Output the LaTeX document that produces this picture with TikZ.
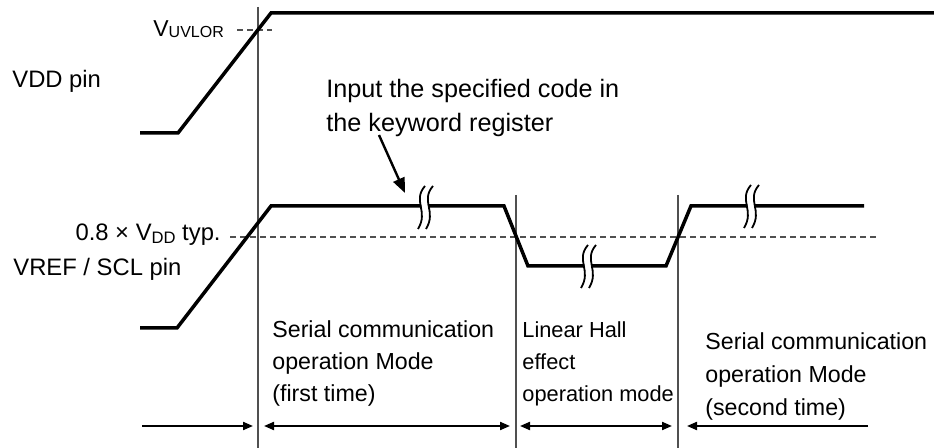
\documentclass[tikz,border=0pt]{standalone}
\usepackage{fontspec}
\setmainfont{Liberation Sans}
\definecolor{hallgray}{RGB}{80,80,80}
\usetikzlibrary{arrows.meta}

\begin{document}
\begin{tikzpicture}[x=0.5pt,y=-0.5pt,
  hallwave/.style={line width=1.75pt,line join=miter},
  hallmark/.style={line width=0.7pt,hallgray},
  halldash/.style={line width=0.6pt,hallgray,dash pattern=on 3pt off 2pt},
  hallarr/.style={line width=1pt,-{Triangle[length=5pt,width=4pt]}},
  hallboth/.style={line width=1pt,{Triangle[length=5pt,width=4pt]}-{Triangle[length=5pt,width=4pt]}},
  hallnote/.style={inner sep=0pt,align=left,anchor=north west,font=\fontsize{11.6}{16}\selectfont},
  halllabel/.style={inner sep=0pt,font=\fontsize{11.9}{16}\selectfont},
  hallbreak/.style={line width=0.9pt}
]
  \useasboundingbox (0,0) rectangle (934,448);

  % Mode boundaries
  \coordinate (b1top) at (258,7);
  \coordinate (b1bot) at (258,448);
  \coordinate (b2top) at (516,195);
  \coordinate (b2bot) at (516,448);
  \coordinate (b3top) at (678,195);
  \coordinate (b3bot) at (678,448);
  \draw[hallmark] (b1top) -- (b1bot);
  \draw[hallmark] (b2top) -- (b2bot);
  \draw[hallmark] (b3top) -- (b3bot);

  % Threshold lines
  \draw[halldash] (237,30) -- (272,30);
  \draw[halldash] (230,237) -- (878,237);

  % VDD pin waveform
  \draw[hallwave] (140,133) -- (178,133) -- (271,13) -- (934,13);

  % VREF / SCL pin waveform
  \draw[hallwave] (140,328) -- (177,328) -- (271,206) -- (504,206) -- (528,266)
    -- (666,266) -- (691,206) -- (864,206);

  % Breaks in the waveform
  \foreach \bx/\by in {425/207,588/266,751/206}{
    \draw[white,line width=3.2pt] (\bx+4,\by-21) .. controls (\bx-9,\by-6) and (\bx+8,\by+4) .. (\bx-3,\by+22);
    \draw[hallbreak] (\bx,\by-21) .. controls (\bx-13,\by-6) and (\bx+4,\by+4) .. (\bx-7,\by+22);
    \draw[hallbreak] (\bx+8,\by-21) .. controls (\bx-5,\by-6) and (\bx+12,\by+4) .. (\bx+1,\by+22);
  }

  % Labels
  \node[halllabel,anchor=base west] (vddpin) at (12,88) {VDD pin};
  \node[halllabel,anchor=base west,font=\fontsize{11.5}{16}\selectfont] (uvlor) at (153,37) {V\raisebox{-0.5pt}{\fontsize{8}{8}\selectfont UVLOR}};
  \node[halllabel,anchor=base east] (thresh) at (221,241) {0.8 × V\raisebox{-1.5pt}{\fontsize{8.3}{8}\selectfont DD} typ.};
  \node[halllabel,anchor=base west] (vrefpin) at (13,276) {VREF / SCL pin};

  % Keyword note
  \node[hallnote,font=\fontsize{12.6}{17}\selectfont] (kwnote) at (326,79) {Input the specified code in\\the keyword register};
  \coordinate (kwtail) at (379,135);
  \coordinate (kwtip) at (405,193);
  \draw[line width=1.2pt,-{Triangle[length=7.5pt,width=6pt]}] (kwtail) -- (kwtip);

  % Mode texts
  \node[hallnote] (serial1) at (272,320) {Serial communication\\operation Mode\\(first time)};
  \node[hallnote,font=\fontsize{10.9}{16}\selectfont] (linear) at (522,321) {Linear Hall\\effect\\operation mode};
  \node[hallnote,font=\fontsize{11.6}{16.5}\selectfont] (serial2) at (705,332) {Serial communication\\operation Mode\\(second time)};

  % Mode spans
  \coordinate (s0) at (142,426);
  \coordinate (s1l) at (253,426);
  \coordinate (s1r) at (264,426);
  \coordinate (s2l) at (510,426);
  \coordinate (s2r) at (520,426);
  \coordinate (s3l) at (672,426);
  \coordinate (s3r) at (687,426);
  \coordinate (s4) at (868,426);
  \draw[hallarr] (s0) -- (s1l);
  \draw[hallboth] (s1r) -- (s2l);
  \draw[hallboth] (s2r) -- (s3l);
  \draw[hallarr] (s4) -- (s3r);
\end{tikzpicture}
\end{document}
